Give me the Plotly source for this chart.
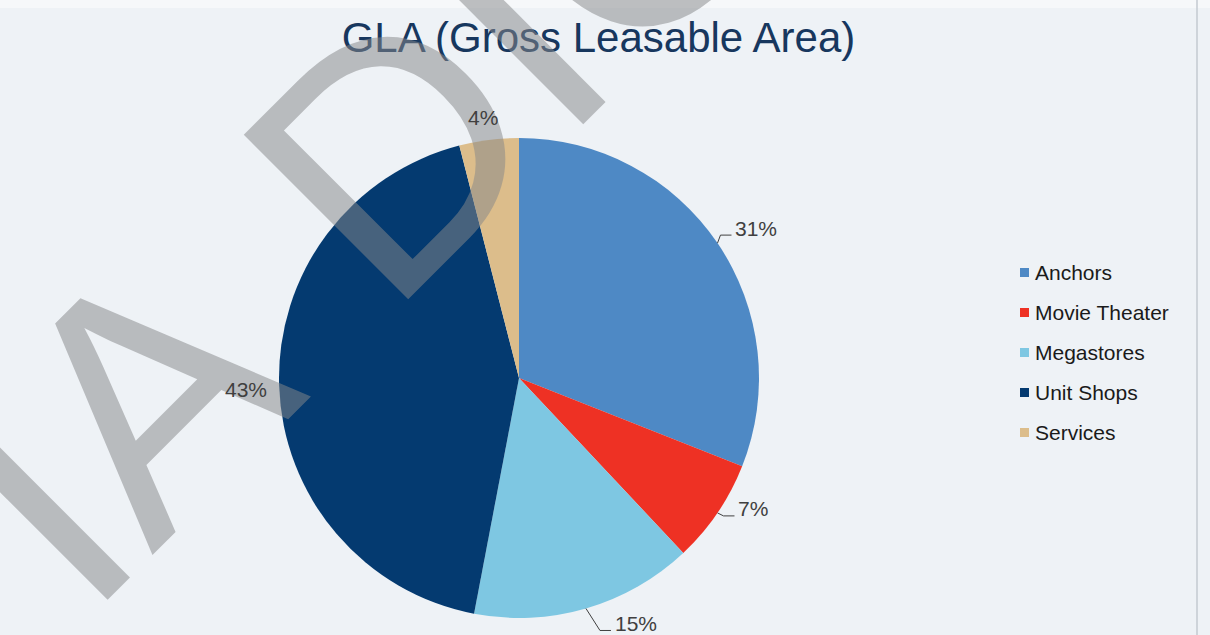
import math
import plotly.graph_objects as go

# ---- data ----
categories = ["Anchors", "Movie Theater", "Megastores", "Unit Shops", "Services"]
shares = [31, 7, 15, 43, 4]
slice_colors = ["#4E89C5", "#EE3124", "#7EC7E2", "#043A70", "#DCBD8B"]
title_text = "GLA (Gross Leasable Area)"
watermark_words = ["IA", "DIO"]

# ---- canvas / pie geometry (pixels) ----
W, H = 1210, 635
CX, CY, R = 519, 378, 240
FONT = "Liberation Sans, Arial, sans-serif"

# label placement relative to the slice's mid-edge point: anchor, dx, dy, leader
label_style = [
    ("left", 17, -15, True),
    ("left", 20, -4, True),
    ("left", 28, 15, True),
    ("right", -11, 4, False),
    ("center", -6, -22, False),
]
# watermark word centres (pixels), rotated -45 degrees
watermark_centres = [(116, 426), (518, 24)]


def px(x, y):
    return x / W, 1 - y / H


fig = go.Figure()

fig.add_trace(go.Pie(
    labels=categories,
    values=shares,
    sort=False,
    direction="clockwise",
    rotation=0,
    marker=dict(colors=slice_colors, line=dict(width=0)),
    textinfo="none",
    hoverinfo="label+percent",
    showlegend=False,
    domain=dict(x=[(CX - R) / W, (CX + R) / W], y=[1 - (CY + R) / H, 1 - (CY - R) / H]),
))

annotations = []
shapes = []

# watermark lettering across the chart
for word, (cx, cy) in zip(watermark_words, watermark_centres):
    wx, wy = px(cx, cy)
    annotations.append(dict(
        x=wx, y=wy, xref="paper", yref="paper", text=word, showarrow=False,
        textangle=-45, xanchor="center", yanchor="middle",
        font=dict(family=FONT, size=338, color="rgba(134,136,138,0.52)"),
    ))

# percentage labels with leader lines
total = sum(shares)
cum = 0
for v, (anchor, dx, dy, leader) in zip(shares, label_style):
    mid = math.radians((cum + v / 2) / total * 360)
    cum += v
    ex, ey = CX + R * math.sin(mid), CY - R * math.cos(mid)
    tx, ty = ex + dx, ey + dy
    lx, ly = px(tx, ty)
    annotations.append(dict(
        x=lx, y=ly, xref="paper", yref="paper", text=f"{round(v / total * 100)}%",
        showarrow=False, xanchor=anchor, yanchor="middle", borderpad=0,
        font=dict(family=FONT, size=21, color="#404040"),
    ))
    if leader:
        p0 = px(ex, ey)
        p1 = px(tx - 14, ty + 7)
        p2 = px(tx - 3, ty + 7)
        shapes.append(dict(
            type="path", xref="paper", yref="paper",
            path=f"M {p0[0]},{p0[1]} L {p1[0]},{p1[1]} L {p2[0]},{p2[1]}",
            line=dict(color="#404040", width=1),
        ))

# legend
for i, (name, col) in enumerate(zip(categories, slice_colors)):
    yc = 272.5 + 40 * i
    a0 = px(1020, yc - 4.5)
    a1 = px(1029, yc + 4.5)
    shapes.append(dict(type="rect", xref="paper", yref="paper",
                       x0=a0[0], x1=a1[0], y0=a0[1], y1=a1[1],
                       fillcolor=col, line=dict(width=0)))
    tx, ty = px(1034, yc)
    annotations.append(dict(
        x=tx, y=ty, xref="paper", yref="paper", text=name, showarrow=False,
        xanchor="left", yanchor="middle", borderpad=0,
        font=dict(family=FONT, size=21, color="#1A1A1A"),
    ))

# frame details: right border line and light top band
shapes.append(dict(type="rect", xref="paper", yref="paper", x0=0, x1=1, y0=1 - 8 / H, y1=1,
                   fillcolor="#F6F8FA", line=dict(width=0), layer="below"))
shapes.append(dict(type="line", xref="paper", yref="paper", x0=1197 / W, x1=1197 / W, y0=0, y1=1,
                   line=dict(color="#C3CAD1", width=1.5), layer="below"))

tx, ty = px(598.5, 0)
fig.update_layout(
    width=W, height=H,
    margin=dict(l=0, r=0, t=0, b=0),
    paper_bgcolor="#EEF2F6",
    plot_bgcolor="#EEF2F6",
    title=dict(text=title_text, x=tx, xanchor="center", xref="paper",
               y=1 - 37.5 / H, yanchor="middle", yref="paper",
               font=dict(family=FONT, size=42, color="#17375E")),
    annotations=annotations,
    shapes=shapes,
)

fig.write_html("out.html")
